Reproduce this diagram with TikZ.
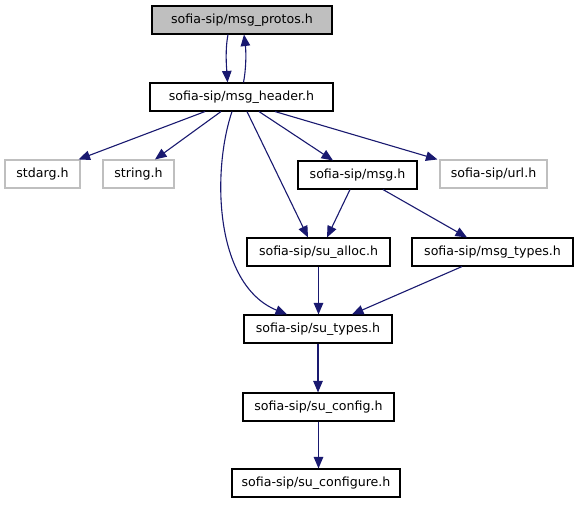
\documentclass[tikz,border=0pt]{standalone}
\usepackage{fontspec}
\setmainfont{DejaVu Sans}
\usetikzlibrary{arrows.meta}
\definecolor{edgeblue}{HTML}{191970}
\definecolor{boxgray}{HTML}{BFBFBF}
\tikzset{
  filebox/.style={draw=black, line width=1.1pt, fill=white, minimum height=28pt, inner sep=0pt,
     font=\fontsize{12.6}{15}\selectfont},
  missingbox/.style={filebox, draw=boxgray},
  rootbox/.style={filebox, fill=boxgray},
  dep/.style={draw=edgeblue, line width=1.1pt, -{Triangle[length=11.5pt,width=9.5pt]}, color=edgeblue}
}
\begin{document}
\begin{tikzpicture}[x=1pt,y=-1pt]
\useasboundingbox[fill=white] (0,0) rectangle (579,504);
\node[rootbox, minimum width=180pt] (protos) at (242,20) {sofia-sip/msg\_protos.h};
\node[filebox, minimum width=183pt] (hdr) at (241.5,97) {sofia-sip/msg\_header.h};
\node[missingbox, minimum width=75pt] (stdarg) at (42.5,174) {stdarg.h};
\node[missingbox, minimum width=71pt] (string) at (138.5,174) {string.h};
\node[filebox, minimum width=119pt] (msg) at (357.5,175) {sofia-sip/msg.h};
\node[missingbox, minimum width=107pt] (url) at (493.5,174) {sofia-sip/url.h};
\node[filebox, minimum width=143pt] (alloc) at (318.5,252) {sofia-sip/su\_alloc.h};
\node[filebox, minimum width=161pt] (mtypes) at (492.5,252) {sofia-sip/msg\_types.h};
\node[filebox, minimum width=148pt] (sut) at (318,329) {sofia-sip/su\_types.h};
\node[filebox, minimum width=151pt] (cfg) at (318.5,407) {sofia-sip/su\_config.h};
\node[filebox, minimum width=168pt] (cfgr) at (316,483) {sofia-sip/su\_configure.h};

% protos <-> header
\draw[dep] ([xshift=-14]protos.south) .. controls +(-3,16) and +(-1,-16) .. ([xshift=-14]hdr.north);
\draw[dep] ([xshift=2]hdr.north) .. controls +(3,-16) and +(2,16) .. ([xshift=2]protos.south);
% header deps
\draw[dep] ([xshift=-36.5]hdr.south) -- ([xshift=-2]stdarg.north east);
\draw[dep] ([xshift=-20.5]hdr.south) -- ([xshift=16.5]string.north);
\draw[dep] ([xshift=17.5]hdr.south) -- ([xshift=-24.5]msg.north);
\draw[dep] ([xshift=33.5]hdr.south) -- ([xshift=-2]url.north west);
\draw[dep] ([xshift=5.5]hdr.south) -- ([xshift=-10.5]alloc.north);
\draw[dep] ([xshift=-9.5]hdr.south) .. controls +(-20,59) and +(-73,-30) .. ([xshift=-31]sut.north);
% msg deps
\draw[dep] ([xshift=-7.5]msg.south) -- ([xshift=8.5]alloc.north);
\draw[dep] ([xshift=25.5]msg.south) -- ([xshift=-25.5]mtypes.north);
% to su_types
\draw[dep] ([xshift=-30.5]mtypes.south) -- ([xshift=34]sut.north);
\draw[dep] (alloc.south) -- (alloc.south |- sut.north);
\draw[dep] (sut.south) -- (sut.south |- cfg.north);
\draw[dep] (cfg.south) -- (cfg.south |- cfgr.north);
\end{tikzpicture}
\end{document}
